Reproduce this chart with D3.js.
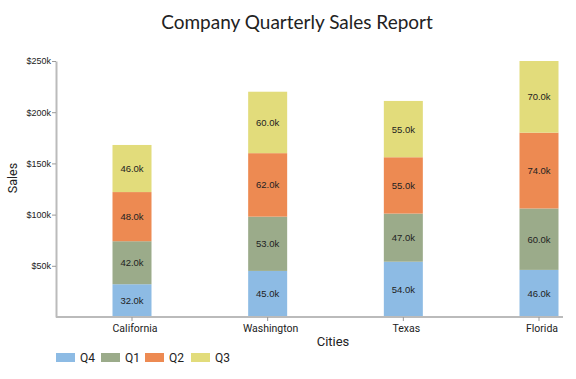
<!DOCTYPE html>
<html><head><meta charset="utf-8">
<script src="https://cdn.jsdelivr.net/npm/d3@7"></script>
<style>body{margin:0;background:#fff}svg{display:block}</style>
</head><body><svg id="c" width="576" height="379"></svg>
<script>
const cities = ["California", "Washington", "Texas", "Florida"];
const quarters = ["Q4", "Q1", "Q2", "Q3"];
const q4 = [32, 45, 54, 46];
const q1 = [42, 53, 47, 60];
const q2 = [48, 62, 55, 74];
const q3 = [46, 60, 55, 70];
const yTicks = [50, 100, 150, 200, 250];
const colors = ["#8dbbe4", "#9bab8a", "#ed8a52", "#e2dc7b"];

(function () {
const series = [q4, q1, q2, q3];
const rows = cities.map((c, i) => {
  const r = {city: c};
  quarters.forEach((q, j) => r[q] = series[j][i]);
  return r;
});
const stacked = d3.stack().keys(quarters)(rows);

const svg = d3.select("#c");
const pLeft = 56, pRight = 563, pTop = 61, pBottom = 317;
const x = d3.scalePoint().domain(cities).range([132, 539]);
const y = d3.scaleLinear().domain([0, 250]).range([pBottom, pTop]);
const bw = 39;

svg.append("text").attr("x", 297).attr("y", 29).attr("text-anchor", "middle")
  .attr("font-family", "Lato, 'Open Sans', sans-serif").attr("font-size", 19).attr("fill", "#222")
  .text("Company Quarterly Sales Report");

const g = svg.append("g");
stacked.forEach((s, j) => {
  g.selectAll(null).data(s).enter().append("rect")
    .attr("x", d => x(d.data.city) - bw / 2)
    .attr("y", d => y(d[1]))
    .attr("width", bw)
    .attr("height", d => y(d[0]) - y(d[1]))
    .attr("fill", colors[j]);
  g.selectAll(null).data(s).enter().append("text")
    .attr("x", d => x(d.data.city))
    .attr("y", d => (y(d[0]) + y(d[1])) / 2 + 3.5)
    .attr("text-anchor", "middle")
    .attr("font-family", "Liberation Sans, Arial, sans-serif")
    .attr("font-size", 9.5).attr("fill", "#222")
    .text(d => (d[1] - d[0]).toFixed(1) + "k");
});

const ya = svg.append("g").attr("transform", `translate(${pLeft},0)`)
  .call(d3.axisLeft(y).tickValues(yTicks).tickSize(4).tickSizeOuter(0).tickFormat(d => "$" + d + "k"));
ya.select(".domain").attr("stroke", "#bbb").attr("stroke-width", 2);
ya.selectAll(".tick line").attr("stroke", "#999");
ya.selectAll(".tick text").attr("font-family", "Liberation Sans, Arial, sans-serif")
  .attr("font-size", 9).attr("fill", "#222").attr("x", -5);

const xa = svg.append("g").attr("transform", `translate(0,${pBottom})`);
xa.append("line").attr("x1", pLeft).attr("x2", pRight).attr("y1", 0).attr("y2", 0)
  .attr("stroke", "#bbb").attr("stroke-width", 2);
xa.selectAll(null).data(cities).enter().append("line")
  .attr("x1", d => x(d)).attr("x2", d => x(d)).attr("y1", 0).attr("y2", 4).attr("stroke", "#999");
xa.selectAll(null).data(cities).enter().append("text")
  .attr("x", d => x(d) + 3).attr("y", 15).attr("text-anchor", "middle")
  .attr("font-family", "Roboto, sans-serif").attr("font-size", 10.5).attr("fill", "#222")
  .text(d => d);

svg.append("text").attr("x", 333).attr("y", 346).attr("text-anchor", "middle")
  .attr("font-family", "Roboto, sans-serif").attr("font-size", 13).attr("fill", "#222").text("Cities");
svg.append("text").attr("transform", "translate(17,178) rotate(-90)").attr("text-anchor", "middle")
  .attr("font-family", "Roboto, sans-serif").attr("font-size", 12.5).attr("fill", "#222").text("Sales");

const legX = [56, 101, 145, 191];
const lg = svg.selectAll(".leg").data(quarters).enter().append("g")
  .attr("transform", (d, i) => `translate(${legX[i]},353)`);
lg.append("rect").attr("width", 19).attr("height", 9).attr("fill", (d, i) => colors[i]);
lg.append("text").attr("x", 24).attr("y", 9).attr("font-family", "Roboto, sans-serif")
  .attr("font-size", 12).attr("fill", "#222").text(d => d);
})();
</script></body></html>
